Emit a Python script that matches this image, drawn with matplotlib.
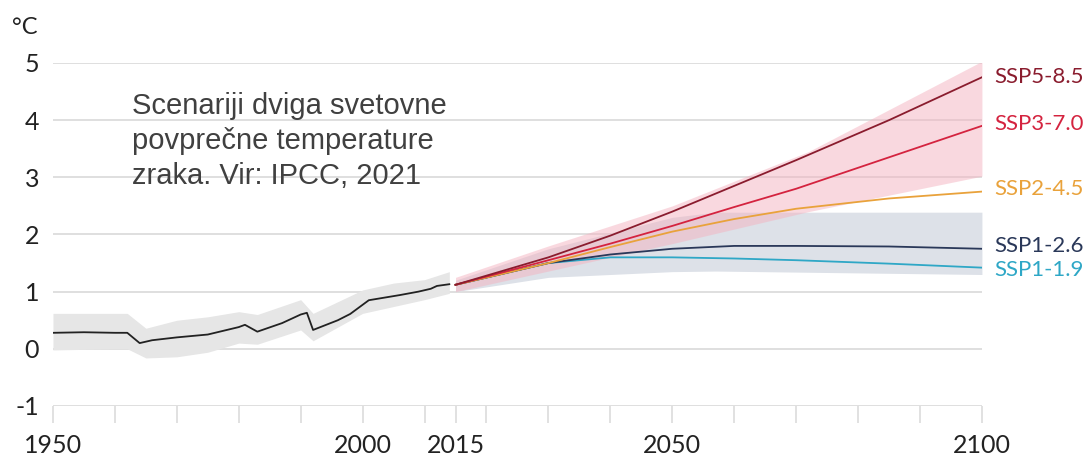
import matplotlib.pyplot as plt

plt.rcParams['font.family'] = ['Lato', 'DejaVu Sans']

# historical
hist_years = [1950, 1955, 1960, 1962, 1964, 1966, 1970, 1975, 1980, 1981, 1983, 1987,
              1990, 1991, 1992, 1996, 1998, 2001, 2006, 2009, 2011, 2012, 2014]
hist_temp = [0.28, 0.29, 0.28, 0.28, 0.1, 0.15, 0.2, 0.25, 0.38, 0.42, 0.3, 0.45,
             0.6, 0.63, 0.33, 0.5, 0.61, 0.85, 0.94, 1.0, 1.05, 1.1, 1.13]
hist_band_years = [1950, 1960, 1962, 1965, 1970, 1975, 1980, 1983, 1990, 1992, 2000, 2005, 2010, 2014]
hist_low = [-0.02, 0.0, 0.0, -0.16, -0.14, -0.06, 0.1, 0.08, 0.33, 0.14, 0.62, 0.74, 0.86, 0.97]
hist_high = [0.62, 0.62, 0.62, 0.36, 0.5, 0.56, 0.65, 0.6, 0.86, 0.62, 1.03, 1.15, 1.21, 1.35]

# projections
proj_years = [2015, 2030, 2040, 2050, 2060, 2070, 2085, 2100]
ssp585 = [1.12, 1.6, 1.98, 2.4, 2.85, 3.3, 4.0, 4.75]
ssp370 = [1.12, 1.55, 1.84, 2.15, 2.48, 2.8, 3.35, 3.9]
ssp245 = [1.12, 1.5, 1.78, 2.05, 2.27, 2.45, 2.63, 2.75]
ssp126 = [1.12, 1.5, 1.65, 1.75, 1.8, 1.8, 1.79, 1.75]
ssp119 = [1.12, 1.5, 1.6, 1.6, 1.58, 1.55, 1.49, 1.42]

red_years = [2015, 2030, 2050, 2072, 2100]
red_low = [1.0, 1.36, 1.84, 2.4, 3.02]
red_high = [1.25, 1.8, 2.5, 3.45, 5.03]
blue_years = [2015, 2030, 2050, 2057, 2100]
blue_low = [1.0, 1.25, 1.35, 1.36, 1.3]
blue_high = [1.2, 1.75, 2.3, 2.39, 2.39]

names = ['SSP5-8.5', 'SSP3-7.0', 'SSP2-4.5', 'SSP1-2.6', 'SSP1-1.9']
series = [ssp585, ssp370, ssp245, ssp126, ssp119]
colors = ['#8a1c2e', '#d4233f', '#e9a23b', '#2a3859', '#2ea7c6']
label_y = [4.75, 3.93, 2.8, 1.8, 1.38]

fig = plt.figure(figsize=(10.92, 4.59), dpi=100)
ax = fig.add_axes([0.0485, 0.1155, 0.8507, 0.7473])

ax.fill_between(hist_band_years, hist_low, hist_high, color='#e6e6e6', lw=0)
ax.fill_between(blue_years, blue_low, blue_high, color='#dde1e8', lw=0)
ax.fill_between(red_years, red_low, red_high, color='#f4b3c0', alpha=0.5, lw=0)

ax.plot(hist_years, hist_temp, color='#222222', lw=1.3)
for s, c in zip(series[::-1], colors[::-1]):
    ax.plot(proj_years, s, color=c, lw=1.3)

for n, c, y in zip(names, colors, label_y):
    ax.text(2102, y, n, color=c, fontsize=16, va='center', ha='left')

ax.set_xlim(1950, 2100)
ax.set_ylim(-1, 5)
ax.set_yticks(range(-1, 6))
ax.set_yticklabels(['-1', '0', '1', '2', '3', '4', '5'], fontsize=18, color='#222222')
for y in range(-1, 6):
    ax.axhline(y, color='#dcdcdc', lw=1.3, zorder=0)

ticks = sorted(list(range(1950, 2101, 10)) + [2015])
shown = [1950, 2000, 2015, 2050, 2100]
ax.set_xticks(ticks)
ax.set_xticklabels([str(t) if t in shown else '' for t in ticks], fontsize=18, color='#222222')
ax.tick_params(axis='x', length=12, color='#dcdcdc', width=1.2, pad=8)
ax.tick_params(axis='y', length=0, pad=10)
for sp in ax.spines.values():
    sp.set_visible(False)

fig.text(12 / 1092, 1 - 28 / 459, '°C', fontsize=17, color='#222222', va='center')
ax.text(1962.7, 4.5, 'Scenariji dviga svetovne\npovprečne temperature\nzraka. Vir: IPCC, 2021',
        family=['Liberation Sans', 'DejaVu Sans'], fontsize=21, color='#404040',
        va='top', ha='left', linespacing=1.33)

fig.savefig('out.png', dpi=100)
